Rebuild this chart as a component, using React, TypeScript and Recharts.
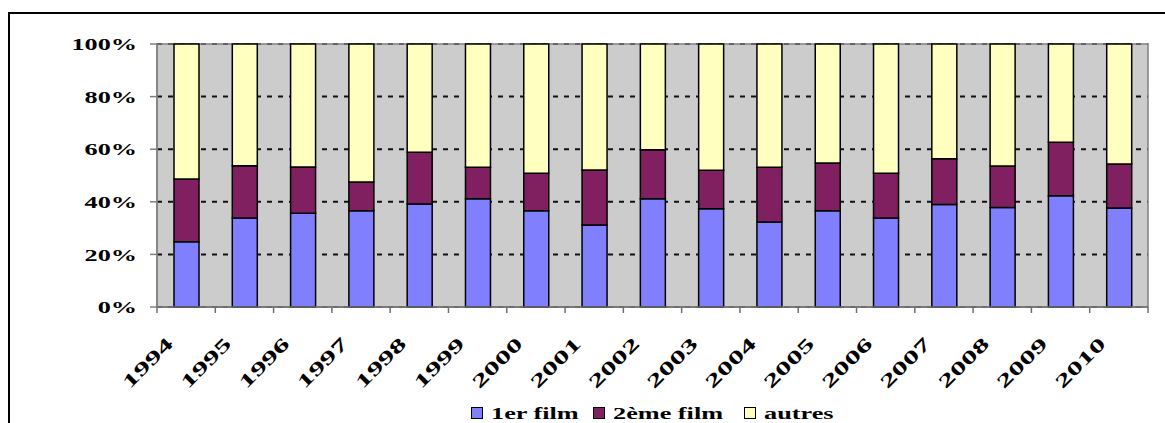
import React from "react";
import {
  BarChart,
  Bar,
  XAxis,
  YAxis,
  CartesianGrid,
  Legend,
  ReferenceArea,
} from "recharts";

const YEARS = [
  "1994", "1995", "1996", "1997", "1998", "1999", "2000", "2001", "2002",
  "2003", "2004", "2005", "2006", "2007", "2008", "2009", "2010",
];
const PREMIER_FILM = [
  24.8, 33.8, 35.6, 36.6, 39.2, 41.2, 36.6, 31.2, 41.2, 37.4, 32.3, 36.6, 33.8,
  39.0, 37.8, 42.3, 37.6,
];
const DEUXIEME_FILM = [
  23.9, 19.9, 17.6, 10.9, 19.6, 11.9, 14.3, 20.9, 18.6, 14.6, 20.8, 18.2, 17.1,
  17.4, 15.8, 20.3, 16.8,
];
const AUTRES = [
  51.3, 46.3, 46.8, 52.5, 41.2, 46.9, 49.1, 47.9, 40.2, 48.0, 46.9, 45.2, 49.1,
  43.6, 46.4, 37.4, 45.6,
];
const SERIES_NAMES = ["1er film", "2ème film", "autres"];
const Y_TICKS = [0, 20, 40, 60, 80, 100];

const data = YEARS.map((year, i) => ({
  year,
  premier: PREMIER_FILM[i],
  deuxieme: DEUXIEME_FILM[i],
  autres: AUTRES[i],
}));

const FONT = "Liberation Serif";
const FONT_SIZE = 17.5;
const STRETCH = 1.5;
const COLORS = ["#8080ff", "#802060", "#ffffc0"];

function measure(text: string) {
  const ctx = document.createElement("canvas").getContext("2d");
  if (!ctx) return text.length * 9;
  ctx.font = `bold ${FONT_SIZE}px "${FONT}"`;
  return ctx.measureText(text).width;
}

function YTick({ x, y, payload }: any) {
  return (
    <g transform={`translate(${x},${y})`}>
      <text
        transform={`scale(${STRETCH},1)`}
        textAnchor="end"
        dy="0.35em"
        fontFamily={FONT}
        fontWeight="bold"
        fontSize={FONT_SIZE}
        fill="#000"
      >
        {payload.value}%
      </text>
    </g>
  );
}

function XTick(props: any) {
  const { x, y, payload, width, visibleTicksCount, index } = props;
  const half = payload.offset ?? width / visibleTicksCount / 2;
  const last = index === visibleTicksCount - 1;
  return (
    <g>
      <line x1={x - half} x2={x - half} y1={y} y2={y + 6} stroke="#707070" strokeWidth={1.5} />
      {last && (
        <line x1={x + half} x2={x + half} y1={y} y2={y + 6} stroke="#707070" strokeWidth={1.5} />
      )}
      <text
        transform={`translate(${x - 12},${y + 38}) rotate(-45) scale(1.7,1)`}
        textAnchor="end"
        fontFamily={FONT}
        fontWeight="bold"
        fontSize={18.5}
        fill="#000"
      >
        {payload.value}
      </text>
    </g>
  );
}

function LegendBox() {
  return (
    <div
      style={{
        display: "flex",
        justifyContent: "center",
        alignItems: "center",
        height: 20,
        fontFamily: FONT,
        fontWeight: "bold",
        fontSize: FONT_SIZE,
      }}
    >
      {SERIES_NAMES.map((name, i) => (
        <div key={name} style={{ display: "flex", alignItems: "center", marginRight: i === 0 ? 14 : i === 1 ? 21 : 0 }}>
          <span
            style={{
              width: 10,
              height: 10,
              border: "1.5px solid #000",
              background: COLORS[i],
              marginRight: 8,
            }}
          />
          <span style={{ width: measure(name) * STRETCH, whiteSpace: "nowrap", lineHeight: "20px" }}>
            <span
              style={{
                display: "inline-block",
                transform: `scaleX(${STRETCH})`,
                transformOrigin: "left center",
              }}
            >
              {name}
            </span>
          </span>
        </div>
      ))}
    </div>
  );
}

export default function App() {
  return (
    <div
      style={{
        position: "fixed",
        left: 0,
        top: 0,
        width: 1165,
        height: 423,
        overflow: "hidden",
        background: "#fff",
      }}
    >
      <div
        style={{
          position: "absolute",
          left: 8,
          top: 12,
          width: 1300,
          height: 600,
          border: "2px solid #000",
        }}
      />
      <div style={{ position: "absolute", left: 0, top: 0 }}>
        <BarChart
          width={1165}
          height={423}
          data={data}
          margin={{ top: 44, right: 17, left: 0, bottom: 0 }}
          barSize={25}
        >
          <CartesianGrid
            vertical={false}
            fill="#cccccc"
            stroke="#111"
            strokeWidth={2}
            strokeDasharray="5 6"
          />
          <ReferenceArea y1={0} y2={100} fill="none" stroke="#808080" strokeWidth={1.5} />
          <XAxis
            dataKey="year"
            interval={0}
            height={96}
            tickSize={0}
            tickMargin={0}
            tickLine={false}
            axisLine={{ stroke: "#707070", strokeWidth: 1.5 }}
            tick={<XTick />}
          />
          <YAxis
            width={157}
            domain={[0, 100]}
            ticks={Y_TICKS}
            tickSize={7}
            tickMargin={13}
            axisLine={{ stroke: "#808080", strokeWidth: 1.5 }}
            tickLine={{ stroke: "#808080", strokeWidth: 1.5 }}
            tick={<YTick />}
          />
          <Legend
            verticalAlign="bottom"
            height={20}
            wrapperStyle={{ left: 157, width: 991 }}
            content={<LegendBox />}
          />
          <Bar dataKey="premier" name={SERIES_NAMES[0]} stackId="a" fill={COLORS[0]} stroke="#000" strokeWidth={1.5} isAnimationActive={false} />
          <Bar dataKey="deuxieme" name={SERIES_NAMES[1]} stackId="a" fill={COLORS[1]} stroke="#000" strokeWidth={1.5} isAnimationActive={false} />
          <Bar dataKey="autres" name={SERIES_NAMES[2]} stackId="a" fill={COLORS[2]} stroke="#000" strokeWidth={1.5} isAnimationActive={false} />
        </BarChart>
      </div>
    </div>
  );
}
